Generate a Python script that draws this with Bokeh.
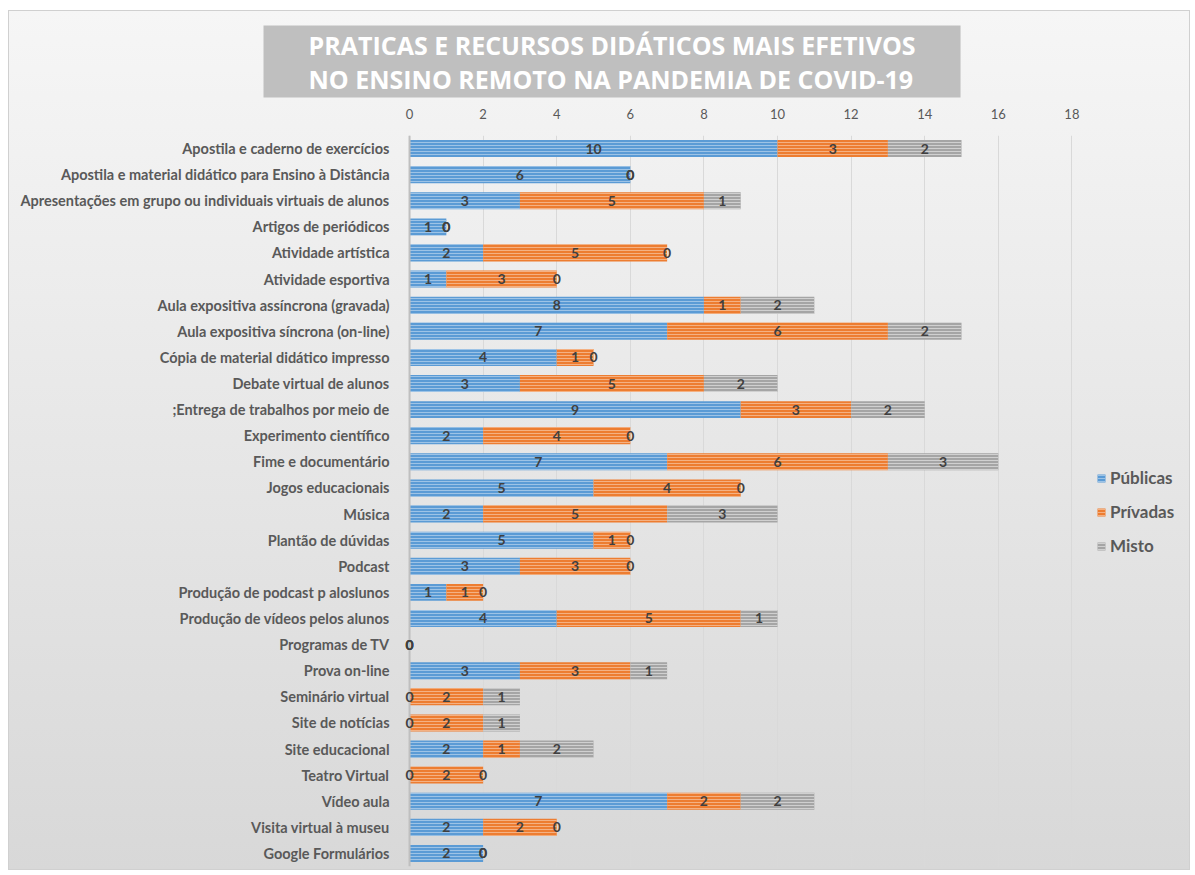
from bokeh.plotting import figure
from bokeh.models import ColumnDataSource, FactorRange, Range1d, FixedTicker, Legend, LegendItem, LabelSet, Span
from bokeh.core.properties import value
from bokeh.embed import file_html
from bokeh.resources import INLINE

categories = [
    "Apostila e caderno de exercícios",
    "Apostila e material didático para Ensino à Distância",
    "Apresentações em grupo ou individuais virtuais de alunos",
    "Artigos de periódicos",
    "Atividade artística",
    "Atividade esportiva",
    "Aula expositiva assíncrona (gravada)",
    "Aula expositiva síncrona (on-line)",
    "Cópia de material didático impresso",
    "Debate virtual de alunos",
    ";Entrega de trabalhos por meio de",
    "Experimento científico",
    "Fime e documentário",
    "Jogos educacionais",
    "Música",
    "Plantão de dúvidas",
    "Podcast",
    "Produção de podcast p aloslunos",
    "Produção de vídeos pelos alunos",
    "Programas de TV",
    "Prova on-line",
    "Seminário virtual",
    "Site de notícias",
    "Site educacional",
    "Teatro Virtual",
    "Vídeo aula",
    "Visita virtual à museu",
    "Google Formulários",
]
publicas = [10, 6, 3, 1, 2, 1, 8, 7, 4, 3, 9, 2, 7, 5, 2, 5, 3, 1, 4, 0, 3, 0, 0, 2, 0, 7, 2, 2]
privadas = [3, 0, 5, 0, 5, 3, 1, 6, 1, 5, 3, 4, 6, 4, 5, 1, 3, 1, 5, 0, 3, 2, 2, 1, 2, 2, 2, 0]
misto = [2, 0, 1, 0, 0, 0, 2, 2, 0, 2, 2, 0, 3, 0, 3, 0, 0, 0, 1, 0, 1, 1, 1, 2, 0, 2, 0, 0]
series_names = ["Públicas", "Prívadas", "Misto"]
x_ticks = [0, 2, 4, 6, 8, 10, 12, 14, 16, 18]
title_text = "PRATICAS E RECURSOS DIDÁTICOS MAIS EFETIVOS\nNO ENSINO REMOTO NA PANDEMIA DE COVID-19"

fills = ["#5B9BD5", "#ED7D31", "#A5A5A5"]
hatches = ["#9DC3E6", "#F4B183", "#D0D0D0"]

series = [publicas, privadas, misto]
data = {"cat": categories}
cum = [0] * len(categories)
for i, vals in enumerate(series):
    left = list(cum)
    right = [a + b for a, b in zip(left, vals)]
    data[f"l{i}"] = left
    data[f"r{i}"] = right
    data[f"c{i}"] = [(a + b) / 2 for a, b in zip(left, right)]
    data[f"t{i}"] = [str(v) for v in vals]
    cum = right
source = ColumnDataSource(data)

p = figure(width=1182, height=860, y_range=FactorRange(*reversed(categories)),
           x_range=Range1d(-0.3, 21.25), output_backend="svg", toolbar_location=None,
           x_axis_location="above", min_border_left=389, min_border_right=0,
           min_border_top=124, min_border_bottom=5)
p.margin = (10, 5, 5, 8)
p.background_fill_alpha = 0
p.border_fill_alpha = 0
p.outline_line_color = None
p.styles = {"background": "linear-gradient(to bottom, #F6F6F6, #D8D8D8)",
            "border": "1px solid #D0D0D0", "box-sizing": "border-box"}

p.title.text = title_text
p.title.align = "left"
p.title.offset = -135
p.title.standoff = 16
p.title.text_font = "Open Sans"
p.title.text_font_style = "bold"
p.title.text_font_size = "25px"
p.title.text_color = "white"
p.title.text_line_height = 1.0
p.title.background_fill_color = "#BFBFBF"
p.title.padding = dict(left=45, right=45, top=2, bottom=2)

p.xaxis.ticker = FixedTicker(ticks=x_ticks)
p.xgrid.ticker = FixedTicker(ticks=x_ticks)
p.xgrid.grid_line_color = "#D9D9D9"
p.ygrid.grid_line_color = None

p.add_layout(Span(location=0, dimension="height", line_color="#BFBFBF", line_width=2))

renderers = []
for i in range(3):
    r = p.hbar(y="cat", left=f"l{i}", right=f"r{i}", height=0.65, source=source,
               fill_color=fills[i], line_color=None,
               hatch_pattern="horizontal_line", hatch_color=hatches[i],
               hatch_scale=3, hatch_weight=1)
    renderers.append(r)

for i in range(3):
    labels = LabelSet(x=f"c{i}", y="cat", text=f"t{i}", source=source,
                      text_align="center", text_baseline="middle",
                      text_font=value("Lato"), text_font_style="bold",
                      text_font_size="14px", text_color="#404040")
    p.add_layout(labels)

legend = Legend(items=[LegendItem(label=series_names[i], renderers=[renderers[i]]) for i in range(3)],
                location=(698, 310))
legend.background_fill_alpha = 0
legend.border_line_color = None
legend.padding = 0
legend.margin = 0
legend.spacing = 13
legend.glyph_width = 10
legend.glyph_height = 10
legend.label_standoff = 4
legend.label_text_font = "Lato"
legend.label_text_font_style = "bold"
legend.label_text_font_size = "17px"
legend.label_text_color = "#595959"
p.add_layout(legend)

p.xaxis.axis_line_color = None
p.xaxis.major_tick_line_color = None
p.xaxis.minor_tick_line_color = None
p.xaxis.major_label_text_font = "Lato"
p.xaxis.major_label_text_font_size = "13px"
p.xaxis.major_label_text_color = "#595959"
p.xaxis.major_label_standoff = 11

p.yaxis.axis_line_color = None
p.yaxis.major_tick_line_color = None
p.yaxis.minor_tick_line_color = None
p.yaxis.major_label_text_font = "Lato"
p.yaxis.major_label_text_font_style = "bold"
p.yaxis.major_label_text_font_size = "14.5px"
p.yaxis.major_label_text_color = "#595959"
p.yaxis.major_label_standoff = 3

open("out.html", "w").write(file_html(p, INLINE))
